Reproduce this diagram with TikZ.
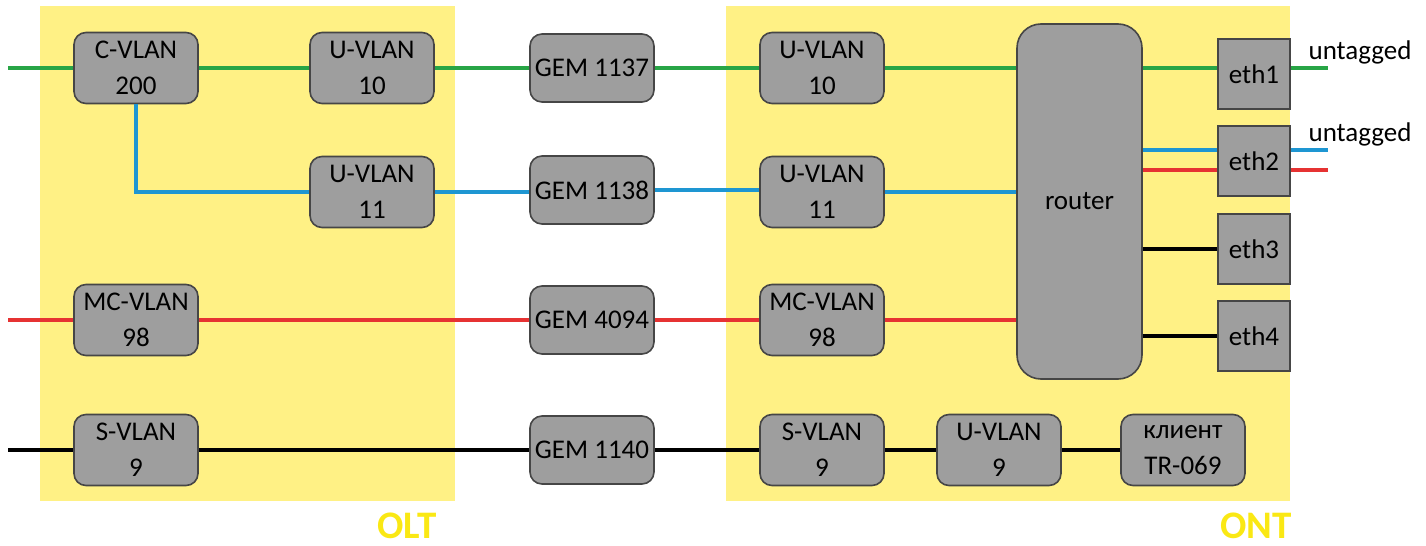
\documentclass[tikz,border=0pt]{standalone}
\usepackage{fontspec}
\setmainfont{Carlito}
\usetikzlibrary{calc}

\definecolor{zonefill}{RGB}{255,241,133}
\definecolor{zonetext}{RGB}{250,232,20}
\definecolor{boxgray}{RGB}{158,158,158}
\definecolor{boxline}{RGB}{70,70,70}
\definecolor{vgreen}{RGB}{40,165,70}
\definecolor{vblue}{RGB}{30,150,210}
\definecolor{vred}{RGB}{230,50,50}

\begin{document}
\begin{tikzpicture}[
    x=0.5pt, y=-0.5pt,
    font=\fontsize{13.5}{18}\selectfont,
    vlan/.style={rectangle, draw=boxline, line width=0.8pt, rounded corners=6pt, fill=boxgray, minimum width=62pt, minimum height=35.5pt, inner sep=0pt, align=center},
    gem/.style={vlan, minimum height=34pt},
    port/.style={rectangle, draw=boxline, line width=0.8pt, fill=boxgray, minimum width=36pt, minimum height=35pt, inner sep=0pt},
    zonelabel/.style={text=zonetext, font=\fontsize{19.5}{22}\selectfont\bfseries},
    glink/.style={draw=vgreen, line width=1.6pt},
    blink/.style={draw=vblue, line width=1.6pt},
    rlink/.style={draw=vred, line width=1.6pt},
    klink/.style={draw=black, line width=1.6pt}
  ]
  \useasboundingbox (0,0) rectangle (1426,546);

  % zones
  \fill[zonefill] (40,6) rectangle (455,501);
  \fill[zonefill] (726,6) rectangle (1290,501);
  \node[zonelabel] (oltlbl) at (407,526) {OLT};
  \node[zonelabel] (ontlbl) at (1256,526) {ONT};

  % OLT side
  \node[vlan] (cvlan) at (136,68) {C-VLAN\\200};
  \node[vlan] (olt10) at (372,68) {U-VLAN\\10};
  \node[vlan] (olt11) at (372,192) {U-VLAN\\11};
  \node[vlan] (oltmc) at (136,320) {MC-VLAN\\98};
  \node[vlan] (oltsv) at (136,450) {S-VLAN\\9};

  % GEM ports
  \node[gem] (gem1137) at (592,68) {GEM 1137};
  \node[gem] (gem1138) at (592,190) {GEM 1138};
  \node[gem] (gem4094) at (592,320) {GEM 4094};
  \node[gem] (gem1140) at (592,450) {GEM 1140};

  % ONT side
  \node[vlan] (ont10) at (822,68) {U-VLAN\\10};
  \node[vlan] (ont11) at (822,192) {U-VLAN\\11};
  \node[vlan] (ontmc) at (822,320) {MC-VLAN\\98};
  \node[vlan] (ontsv) at (822,450) {S-VLAN\\9};
  \node[vlan] (ont9) at (999,450) {U-VLAN\\9};
  \node[vlan] (tr069) at (1183,450) {клиент\\TR-069};
  \node[vlan, rounded corners=12pt, minimum width=62.5pt, minimum height=177.5pt] (router) at (1079.5,201.5) {router};

  \node[port] (eth1) at (1254,74) {eth1};
  \node[port] (eth2) at (1254,161) {eth2};
  \node[port] (eth3) at (1254,249) {eth3};
  \node[port] (eth4) at (1254,336) {eth4};

  % free ends
  \coordinate (ingreen) at (8,68);
  \coordinate (inred) at (8,320);
  \coordinate (inblack) at (8,450);
  \coordinate (outgreen) at (1328,68);
  \coordinate (outblue) at (1328,150);
  \coordinate (outred) at (1328,170);

  % green
  \draw[glink] (ingreen) -- (cvlan.west);
  \draw[glink] (cvlan.east) -- (olt10.west);
  \draw[glink] (olt10.east) -- (gem1137.west);
  \draw[glink] (gem1137.east) -- (ont10.west);
  \draw[glink] (ont10.east) -- (ont10.east -| router.west);
  \draw[glink] ([yshift=3pt]eth1.west -| router.east) -- ([yshift=3pt]eth1.west);
  \draw[glink] ([yshift=3pt]eth1.east) -- (outgreen);

  % blue
  \draw[blink] (cvlan.south) |- (olt11.west);
  \draw[blink] (olt11.east) -- (olt11.east -| gem1138.west);
  \draw[blink] (gem1138.east) -- (gem1138.east -| ont11.west);
  \draw[blink] (ont11.east) -- (ont11.east -| router.west);
  \draw[blink] ([yshift=5.5pt]eth2.west -| router.east) -- ([yshift=5.5pt]eth2.west);
  \draw[blink] ([yshift=5.5pt]eth2.east) -- (outblue);

  % red
  \draw[rlink] (inred) -- (oltmc.west);
  \draw[rlink] (oltmc.east) -- (gem4094.west);
  \draw[rlink] (gem4094.east) -- (ontmc.west);
  \draw[rlink] (ontmc.east) -- (ontmc.east -| router.west);
  \draw[rlink] ([yshift=-4.5pt]eth2.west -| router.east) -- ([yshift=-4.5pt]eth2.west);
  \draw[rlink] ([yshift=-4.5pt]eth2.east) -- (outred);

  % black
  \draw[klink] (inblack) -- (oltsv.west);
  \draw[klink] (oltsv.east) -- (gem1140.west);
  \draw[klink] (gem1140.east) -- (ontsv.west);
  \draw[klink] (ontsv.east) -- (ont9.west);
  \draw[klink] (ont9.east) -- (tr069.west);
  \draw[klink] (eth3.west -| router.east) -- (eth3.west);
  \draw[klink] (eth4.west -| router.east) -- (eth4.west);

  \node (untag1) at (1360,52) {untagged};
  \node (untag2) at (1360,134) {untagged};
\end{tikzpicture}
\end{document}
